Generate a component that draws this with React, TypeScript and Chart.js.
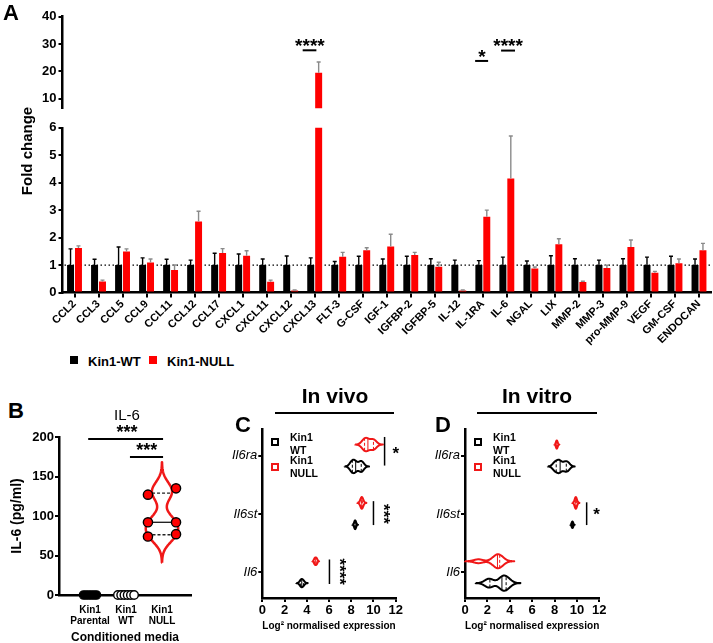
import React, { useEffect, useRef } from "react";
import { Chart, registerables } from "chart.js";

Chart.register(...registerables);

const FONT = "'Liberation Sans', Arial, Helvetica, sans-serif";
const RED = "#ff0000";
const VRED = "#f01818";

// ---------------- Panel A data ----------------
const cytokines = ["CCL2", "CCL3", "CCL5", "CCL9", "CCL11", "CCL12", "CCL17", "CXCL1", "CXCL11", "CXCL12", "CXCL13", "FLT-3", "G-CSF", "IGF-1", "IGFBP-2", "IGFBP-5", "IL-12", "IL-1RA", "IL-6", "NGAL", "LIX", "MMP-2", "MMP-3", "pro-MMP-9", "VEGF", "GM-CSF", "ENDOCAN"];
const wtFold = [1, 1, 1, 1, 1, 1, 1, 1, 1, 1, 1, 1, 1, 1, 1, 1, 1, 1, 1, 1, 1, 1, 1, 1, 1, 1, 1];
const wtErrTop = [1.59, 1.21, 1.66, 1.26, 1.21, 1.18, 1.43, 1.4, 1.22, 1.33, 1.26, 1.13, 1.32, 1.22, 1.32, 1.23, 1.18, 1.16, 1.29, 1.15, 1.34, 1.23, 1.18, 1.23, 1.29, 1.32, 1.22];
const nullFold = [1.62, 0.4, 1.49, 1.09, 0.82, 2.59, 1.44, 1.34, 0.39, 0.07, 19.5, 1.3, 1.54, 1.68, 1.37, 0.94, 0.07, 2.76, 4.15, 0.87, 1.76, 0.38, 0.89, 1.66, 0.72, 1.07, 1.54];
const nullErrTop = [1.7, 0.45, 1.59, 1.22, 1.0, 2.96, 1.6, 1.52, 0.45, 0.09, 23.4, 1.46, 1.63, 2.12, 1.46, 1.1, 0.09, 3.0, 5.7, 0.93, 1.96, 0.41, 0.99, 1.91, 0.77, 1.22, 1.79];
const topTicks = [10, 20, 30, 40];
const bottomTicks = [0, 1, 2, 3, 4, 5, 6];
const legendA = ["Kin1-WT", "Kin1-NULL"];

// ---------------- Panel B data ----------------
const bGroups = [["Kin1", "Parental"], ["Kin1", "WT"], ["Kin1", "NULL"]];
const il6Parental = [0, 0, 0, 0, 0, 0];
const il6WT = [0, 0, 0, 0, 0, 0];
const il6Null = [74, 77, 92, 92, 127, 135];
const bTicks = [0, 50, 100, 150, 200];

// ---------------- Panels C / D data ----------------
const genes = ["Il6", "Il6st", "Il6ra"];
const vivoWT = [[3.45, 3.55, 3.7], [8.3, 8.35, 8.4], [8.0, 8.2, 8.4, 8.8, 9.0]];
const vivoNull = [[4.7, 4.8, 4.9], [8.9, 8.95, 9.0], [9.1, 9.3, 9.5, 9.9, 10.1]];
const vitroWT = [[2.0, 2.3, 3.2, 3.4, 3.6, 3.9], [9.55, 9.6, 9.65], [8.0, 8.3, 8.5, 8.9, 9.2]];
const vitroNull = [[1.2, 2.7, 2.9, 3.0, 3.2], [9.85, 9.9, 9.95], [8.15, 8.2, 8.25]];
const cdTicks = [0, 2, 4, 6, 8, 10, 12];

// violin smoothing (bandwidth) and drawn half-width (in category units)
const vivoWTBw = [0.13, 0.07, 0.2];
const vivoNullBw = [0.07, 0.12, 0.25];
const vitroWTBw = [0.35, 0.05, 0.2];
const vitroNullBw = [0.4, 0.09, 0.06];
const vivoWTHalf = [0.07, 0.075, 0.115];
const vivoNullHalf = [0.065, 0.1, 0.115];
const vitroWTHalf = [0.13, 0.055, 0.115];
const vitroNullHalf = [0.12, 0.1, 0.07];

// ---------------- helpers ----------------
function kdeProfile(vals: number[], bw: number, steps = 90) {
  const lo = Math.min(...vals) - 3 * bw;
  const hi = Math.max(...vals) + 3 * bw;
  const out: { v: number; d: number }[] = [];
  for (let i = 0; i <= steps; i++) {
    const v = lo + ((hi - lo) * i) / steps;
    let d = 0;
    for (const x of vals) {
      const z = (v - x) / bw;
      d += Math.exp(-0.5 * z * z);
    }
    out.push({ v, d });
  }
  const mx = Math.max(...out.map((p) => p.d));
  return out.map((p) => ({ v: p.v, d: p.d / mx }));
}

function widthAt(prof: { v: number; d: number }[], v: number) {
  for (let i = 1; i < prof.length; i++) {
    if (prof[i].v >= v) {
      const a = prof[i - 1], b = prof[i];
      const t = (v - a.v) / (b.v - a.v);
      return a.d + t * (b.d - a.d);
    }
  }
  return 0;
}

function quantile(vals: number[], p: number) {
  const s = [...vals].sort((a, b) => a - b);
  const n = s.length;
  const pos = (n + 1) * p;
  if (pos <= 1) return s[0];
  if (pos >= n) return s[n - 1];
  const lo = Math.floor(pos);
  return s[lo - 1] + (pos - lo) * (s[lo] - s[lo - 1]);
}

function swarm(vals: number[], spacing: number, tol: number) {
  const idx = vals.map((_, i) => i).sort((a, b) => vals[a] - vals[b]);
  const off = new Array(vals.length).fill(0);
  let g: number[] = [];
  const flush = () => {
    g.forEach((k, j) => (off[k] = (j - (g.length - 1) / 2) * spacing));
    g = [];
  };
  for (const k of idx) {
    if (g.length && vals[k] - vals[g[g.length - 1]] > tol) flush();
    g.push(k);
  }
  flush();
  return off;
}

// violin datasets; vertical = value on y axis
function violinSets(vals: number[], bw: number, center: number, half: number, color: string, lw: number, vertical: boolean, innerColor: string, innerW: number) {
  const prof = kdeProfile(vals, bw);
  const pt = (v: number, w: number) => (vertical ? { x: center + w, y: v } : { x: v, y: center + w });
  const side1 = prof.map((p) => pt(p.v, p.d * half));
  const side2 = prof.slice().reverse().map((p) => pt(p.v, -p.d * half));
  const outline = [...side1, ...side2, side1[0]];
  const sets: any[] = [];
  const qs = [quantile(vals, 0.25), quantile(vals, 0.5), quantile(vals, 0.75)];
  qs.forEach((q, i) => {
    const w = widthAt(prof, q) * half;
    sets.push({
      data: [pt(q, -w), pt(q, w)],
      showLine: true,
      borderColor: innerColor,
      borderWidth: innerW,
      borderDash: i === 1 ? [] : [3, 2],
      pointRadius: 0,
      tension: 0,
    });
  });
  sets.push({
    data: outline,
    showLine: true,
    borderColor: color,
    borderWidth: lw,
    pointRadius: 0,
    tension: 0.1,
    clip: 4,
  });
  return sets;
}

// ---------------- plugins ----------------
const errPlugin = {
  id: "errbars",
  afterDatasetsDraw(chart: any) {
    const { ctx, chartArea: a } = chart;
    const ys = chart.scales.y;
    ctx.save();
    ctx.beginPath();
    ctx.rect(a.left, a.top - 2, a.right - a.left, a.bottom - a.top + 2);
    ctx.clip();
    chart.data.datasets.forEach((ds: any, di: number) => {
      const meta = chart.getDatasetMeta(di);
      meta.data.forEach((bar: any, i: number) => {
        const yTop = ys.getPixelForValue(ds.errTop[i]);
        const yBar = ys.getPixelForValue(ds.data[i]);
        ctx.strokeStyle = ds.errColor;
        ctx.lineWidth = 1.4;
        ctx.beginPath();
        ctx.moveTo(bar.x, yBar);
        ctx.lineTo(bar.x, yTop);
        ctx.moveTo(bar.x - 2, yTop);
        ctx.lineTo(bar.x + 2, yTop);
        ctx.stroke();
      });
    });
    ctx.restore();
  },
};

const dotPlugin = {
  id: "dotline",
  beforeDatasetsDraw(chart: any, _a: any, opts: any) {
    if (opts.value === undefined) return;
    const { ctx, chartArea: a } = chart;
    const y = chart.scales.y.getPixelForValue(opts.value);
    ctx.save();
    ctx.strokeStyle = "#000";
    ctx.lineWidth = 1.3;
    ctx.setLineDash([1.5, 2.5]);
    ctx.beginPath();
    ctx.moveTo(a.left + 2, y);
    ctx.lineTo(a.right, y);
    ctx.stroke();
    ctx.restore();
  },
};

const annPlugin = {
  id: "ann",
  afterDatasetsDraw(chart: any, _a: any, opts: any) {
    const items = (opts && opts.items) || [];
    const { ctx } = chart;
    const xs = chart.scales.x, ys = chart.scales.y;
    ctx.save();
    for (const it of items) {
      if (it.type === "line") {
        ctx.strokeStyle = "#000";
        ctx.lineWidth = it.width || 2;
        ctx.beginPath();
        ctx.moveTo(xs.getPixelForValue(it.x1), ys.getPixelForValue(it.y1));
        ctx.lineTo(xs.getPixelForValue(it.x2), ys.getPixelForValue(it.y2));
        ctx.stroke();
      } else {
        ctx.save();
        ctx.translate(xs.getPixelForValue(it.x), ys.getPixelForValue(it.y));
        if (it.rotate) ctx.rotate((it.rotate * Math.PI) / 180);
        ctx.font = `bold ${it.size}px ${FONT}`;
        ctx.textAlign = "center";
        ctx.textBaseline = "middle";
        ctx.fillStyle = "#000";
        ctx.fillText(it.text, 0, 0);
        ctx.restore();
      }
    }
    ctx.restore();
  },
};

// annotation records (data coordinates)
const annATop = [
  { type: "line", x1: 9.5, x2: 10.07, y1: 27.7, y2: 27.7 },
  { type: "text", x: 9.8, y: 29.0, text: "****", size: 19 },
  { type: "line", x1: 16.68, x2: 17.22, y1: 23.8, y2: 23.8 },
  { type: "text", x: 16.96, y: 25.0, text: "*", size: 19 },
  { type: "line", x1: 17.76, x2: 18.34, y1: 27.6, y2: 27.6 },
  { type: "text", x: 18.05, y: 29.0, text: "****", size: 19 },
];
const annB = [
  { type: "line", x1: -0.05, x2: 2.03, y1: 197.5, y2: 197.5 },
  { type: "text", x: 1.03, y: 205, text: "***", size: 18 },
  { type: "line", x1: 1.11, x2: 2.03, y1: 174.7, y2: 174.7 },
  { type: "text", x: 1.58, y: 182, text: "***", size: 18 },
];
const annC = [
  { type: "line", x1: 11.0, x2: 11.0, y1: 2.32, y2: 1.83, width: 1.5 },
  { type: "text", x: 12.0, y: 2.03, text: "*", size: 17 },
  { type: "line", x1: 10.0, x2: 10.0, y1: 1.22, y2: 0.81, width: 1.5 },
  { type: "text", x: 10.85, y: 1.0, text: "***", size: 17, rotate: 90 },
  { type: "line", x1: 6.04, x2: 6.04, y1: 0.22, y2: -0.2, width: 1.5 },
  { type: "text", x: 6.9, y: 0.01, text: "****", size: 17, rotate: 90 },
];
const annD = [
  { type: "line", x1: 10.87, x2: 10.87, y1: 1.2, y2: 0.81, width: 1.5 },
  { type: "text", x: 11.75, y: 0.98, text: "*", size: 17 },
];

// ---------------- chart configs ----------------
const axisBorder = { color: "#000", width: 2.5 };
const tickGrid = (len: number) => ({ drawOnChartArea: false, color: "#000", lineWidth: 2, tickLength: len });
const setTicks = (vals: number[]) => (s: any) => {
  s.ticks = vals.map((v) => ({ value: v }));
};

function barDatasets() {
  return [
    { label: legendA[0], data: wtFold, backgroundColor: "#000", errTop: wtErrTop, errColor: "#000" },
    { label: legendA[1], data: nullFold, backgroundColor: RED, errTop: nullErrTop, errColor: "#8a8a8a" },
  ];
}

const baseOpts = {
  responsive: false,
  animation: false,
  events: [],
};

function configATop() {
  return {
    type: "bar",
    data: { labels: cytokines, datasets: barDatasets() },
    options: {
      ...baseOpts,
      layout: { padding: { top: 16.7, bottom: 5.7, right: 2, left: 0 } },
      datasets: { bar: { categoryPercentage: 0.66, barPercentage: 0.88 } },
      plugins: { legend: { display: false }, tooltip: { enabled: false }, ann: { items: annATop } },
      scales: {
        x: { display: false },
        y: {
          min: 6.5,
          max: 40,
          afterFit: (s: any) => { s.width = 62.5; },
          afterBuildTicks: setTicks(topTicks),
          border: axisBorder,
          grid: tickGrid(4),
          ticks: { color: "#000", font: { family: FONT, weight: "bold", size: 13 }, padding: 2 },
        },
      },
    },
    plugins: [errPlugin, annPlugin],
  };
}

function configABottom() {
  return {
    type: "bar",
    data: { labels: cytokines, datasets: barDatasets() },
    options: {
      ...baseOpts,
      layout: { padding: { top: 5, bottom: 0, right: 2, left: 0 } },
      datasets: { bar: { categoryPercentage: 0.66, barPercentage: 0.88 } },
      plugins: { legend: { display: false }, tooltip: { enabled: false }, dotline: { value: 1 } },
      scales: {
        x: {
          afterFit: (s: any) => { s.height = 57.5; },
          border: axisBorder,
          grid: { ...tickGrid(5), offset: false },
          ticks: { autoSkip: false, minRotation: 45, maxRotation: 45, color: "#000", font: { family: FONT, weight: "bold", size: 11 }, padding: 0 },
        },
        y: {
          min: 0,
          max: 6,
          afterFit: (s: any) => { s.width = 62.5; },
          afterBuildTicks: setTicks(bottomTicks),
          border: axisBorder,
          grid: tickGrid(4),
          ticks: { color: "#000", font: { family: FONT, weight: "bold", size: 13 }, padding: 2 },
        },
      },
    },
    plugins: [dotPlugin, errPlugin],
  };
}

function configB() {
  const offP = swarm(il6Parental, 0.072, 5);
  const offW = swarm(il6WT, 0.09, 5);
  const offN = swarm(il6Null, 0.78, 10);
  const datasets: any[] = [
    { data: il6Null.map((v, i) => ({ x: 2 + offN[i], y: v })), pointRadius: 4.6, backgroundColor: RED, borderColor: "#000", borderWidth: 1.4, showLine: false, clip: false },
    { data: il6WT.map((v, i) => ({ x: 1 + offW[i], y: v })), pointRadius: 4.2, backgroundColor: "#fff", borderColor: "#000", borderWidth: 1.4, showLine: false, clip: false },
    { data: il6Parental.map((v, i) => ({ x: 0 + offP[i], y: v })), pointRadius: 4.2, backgroundColor: "#000", borderColor: "#000", borderWidth: 1.2, showLine: false, clip: false },
    ...violinSets(il6Null, 11, 2, 0.45, VRED, 2.5, true, "#222", 1.4),
  ];
  return {
    type: "scatter",
    data: { datasets },
    options: {
      ...baseOpts,
      layout: { padding: { top: 12, bottom: 0, right: 14, left: 0 } },
      plugins: { legend: { display: false }, tooltip: { enabled: false }, ann: { items: annB } },
      scales: {
        x: {
          type: "linear",
          min: -0.861,
          max: 2.806,
          afterFit: (s: any) => { s.height = 48; },
          afterBuildTicks: setTicks([0, 1, 2]),
          border: axisBorder,
          grid: { display: false, drawTicks: false },
          ticks: { color: "#000", font: { family: FONT, weight: "bold", size: 10, lineHeight: 1.05 }, padding: 10, callback: (v: any) => bGroups[Math.round(v)] },
          title: { display: true, text: "Conditioned media", color: "#000", font: { family: FONT, weight: "bold", size: 12 }, padding: { top: 0, bottom: -2 } },
        },
        y: {
          min: 0,
          max: 200,
          afterFit: (s: any) => { s.width = 59; },
          afterBuildTicks: setTicks(bTicks),
          border: axisBorder,
          grid: tickGrid(4),
          ticks: { color: "#000", font: { family: FONT, weight: "bold", size: 13 }, padding: 1 },
          title: { display: true, text: "IL-6 (pg/ml)", color: "#000", font: { family: FONT, weight: "bold", size: 14 }, padding: { top: 8.6, bottom: 0 } },
        },
      },
    },
    plugins: [annPlugin],
  };
}

function configCD(wt: number[][], nul: number[][], wtBw: number[], nulBw: number[], wtHalf: number[], nulHalf: number[], ann: any[], yAxisWidth: number, padRight: number) {
  const datasets: any[] = [];
  genes.forEach((_, gi) => {
    datasets.push(...violinSets(nul[gi], nulBw[gi], gi + 0.19, nulHalf[gi], VRED, 2, false, VRED, 1));
    datasets.push(...violinSets(wt[gi], wtBw[gi], gi - 0.185, wtHalf[gi], "#000", 2, false, "#000", 1));
  });
  return {
    type: "scatter",
    data: { datasets },
    options: {
      ...baseOpts,
      layout: { padding: { top: 8, bottom: 0, right: padRight, left: 0 } },
      plugins: { legend: { display: false }, tooltip: { enabled: false }, ann: { items: ann } },
      scales: {
        x: {
          type: "linear",
          min: 0,
          max: 12,
          afterFit: (s: any) => { s.height = 34; },
          afterBuildTicks: setTicks(cdTicks),
          border: axisBorder,
          grid: tickGrid(4),
          ticks: { color: "#000", font: { family: FONT, weight: "bold", size: 13 }, padding: 1 },
          title: { display: true, text: "Log\u00b2 normalised expression", color: "#000", font: { family: FONT, weight: "bold", size: 10.5 }, padding: { top: 0, bottom: 0 } },
        },
        y: {
          type: "linear",
          min: -0.44,
          max: 2.46,
          afterFit: (s: any) => { s.width = yAxisWidth; },
          afterBuildTicks: setTicks([0, 1, 2]),
          border: axisBorder,
          grid: tickGrid(4),
          ticks: { color: "#000", font: { family: FONT, style: "italic", size: 13 }, padding: 1, callback: (v: any) => genes[Math.round(v)] },
        },
      },
    },
    plugins: [annPlugin],
  };
}

// ---------------- components ----------------
function ChartCanvas({ left, top, width, height, make }: { left: number; top: number; width: number; height: number; make: () => any }) {
  const ref = useRef<HTMLCanvasElement>(null);
  useEffect(() => {
    const c = new Chart(ref.current as HTMLCanvasElement, make() as any);
    return () => c.destroy();
  }, []);
  return <canvas ref={ref} width={width} height={height} style={{ position: "absolute", left, top, width, height }} />;
}

function Txt({ x, y, size, weight = 700, family = FONT, align = "left", children, width = 200 }: any) {
  const left = align === "center" ? x - width / 2 : x;
  return (
    <div style={{ position: "absolute", left, top: y, width, textAlign: align, fontSize: size, fontWeight: weight, fontFamily: family, lineHeight: 1, whiteSpace: "nowrap", color: "#000" }}>
      {children}
    </div>
  );
}

function Sq({ cx, cy, size, fill, stroke, bw }: any) {
  return <div style={{ position: "absolute", left: cx - size / 2, top: cy - size / 2, width: size, height: size, boxSizing: "border-box", background: fill, border: bw ? `${bw}px solid ${stroke}` : "none" }} />;
}

function LegendCD({ x }: { x: number }) {
  return (
    <>
      <Sq cx={x} cy={442} size={7.5} fill="#fff" stroke="#000" bw={2} />
      <Sq cx={x} cy={467} size={7.5} fill="#fff" stroke={VRED} bw={2} />
      <div style={{ position: "absolute", left: x + 15, top: 430.5, fontFamily: FONT, fontWeight: 700, fontSize: 10.5, lineHeight: "13px" }}>Kin1<br />WT</div>
      <div style={{ position: "absolute", left: x + 15, top: 453.5, fontFamily: FONT, fontWeight: 700, fontSize: 10.5, lineHeight: "13px" }}>Kin1<br />NULL</div>
    </>
  );
}

export default function App() {
  return (
    <div style={{ position: "absolute", left: 0, top: 0, width: 713, height: 643, background: "#fff", overflow: "hidden" }}>
      <ChartCanvas left={0} top={0} width={713} height={118} make={configATop} />
      <ChartCanvas left={0} top={118} width={713} height={232} make={configABottom} />
      <ChartCanvas left={0} top={425} width={205} height={218} make={configB} />
      <ChartCanvas left={220} top={420} width={200} height={212} make={() => configCD(vivoWT, vivoNull, vivoWTBw, vivoNullBw, vivoWTHalf, vivoNullHalf, annC, 42.3, 24.3)} />
      <ChartCanvas left={420} top={420} width={200} height={212} make={() => configCD(vitroWT, vitroNull, vitroWTBw, vitroNullBw, vitroWTHalf, vitroNullHalf, annD, 45, 20.7)} />

      {/* Panel A texts */}
      <Txt x={3} y={2} size={22}>A</Txt>
      <div style={{ position: "absolute", left: 27 - 70, top: 151 - 9, width: 140, height: 18, lineHeight: "18px", textAlign: "center", transform: "rotate(-90deg)", fontFamily: FONT, fontWeight: 700, fontSize: 15 }}>Fold change</div>
      <Sq cx={73.5} cy={360} size={8} fill="#000" />
      <Txt x={88} y={354.5} size={13}>{legendA[0]}</Txt>
      <Sq cx={152.5} cy={360} size={8} fill={RED} />
      <Txt x={167} y={354.5} size={13}>{legendA[1]}</Txt>

      {/* Panel B texts */}
      <Txt x={8} y={399.5} size={22}>B</Txt>
      <Txt x={127} y={407} size={15} weight={400} align="center" width={80}>IL-6</Txt>

      {/* Panel C texts */}
      <Txt x={235} y={414} size={22}>C</Txt>
      <Txt x={335} y={385.3} size={21} align="center" width={160}>In vivo</Txt>
      <div style={{ position: "absolute", left: 275, top: 412, width: 119, height: 2, background: "#000" }} />
      <LegendCD x={275} />

      {/* Panel D texts */}
      <Txt x={435} y={414} size={22}>D</Txt>
      <Txt x={537} y={385.3} size={21} align="center" width={160}>In vitro</Txt>
      <div style={{ position: "absolute", left: 477, top: 412, width: 120, height: 2, background: "#000" }} />
      <LegendCD x={478} />
    </div>
  );
}
